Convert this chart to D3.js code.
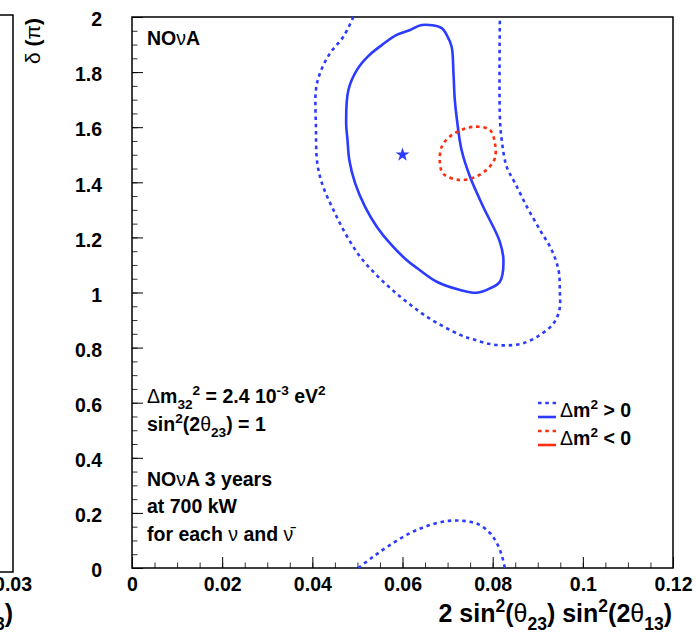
<!DOCTYPE html>
<html lang="en">
<head>
<meta charset="utf-8">
<title>nova contours</title>
<style>
body { margin: 0; background: #fff; }
text { font-family: "Liberation Sans", Arial, sans-serif; font-weight: bold; fill: #000; }
</style>
</head>
<body>
<script src="https://d3js.org/d3.v7.min.js"></script>
<script>

// contours in (2 sin^2(th23) sin^2(2th13), delta/pi)
// solid blue: dm2 > 0, inner contour (closed)
var solidX = [0.0643, 0.0687, 0.0698, 0.0709, 0.0713, 0.0716, 0.0720, 0.0731, 0.0750, 0.0779, 0.0816, 0.0824,
              0.0816, 0.0794, 0.0765, 0.0728, 0.0676, 0.0632, 0.0609, 0.0572, 0.0543, 0.0517, 0.0495,
              0.0482, 0.0478, 0.0475, 0.0480, 0.0499, 0.0524, 0.0554, 0.0587, 0.0617];
var solidY = [1.971, 1.960, 1.935, 1.892, 1.797, 1.699, 1.637, 1.517, 1.419, 1.311, 1.184, 1.112,
              1.039, 1.015, 0.999, 1.009, 1.039, 1.089, 1.118, 1.179, 1.239, 1.311, 1.396,
              1.481, 1.554, 1.614, 1.735, 1.808, 1.858, 1.898, 1.935, 1.953];

// dotted blue: dm2 > 0, outer contour (open, wraps in delta)
var outerX = [0.0491, 0.0469, 0.0439, 0.0417, 0.0408, 0.0408, 0.0411, 0.0424, 0.0447, 0.0473, 0.0506,
              0.0546, 0.0595, 0.0654, 0.0728, 0.0757, 0.0794, 0.0831, 0.0868, 0.0905, 0.0935, 0.0948,
              0.0949, 0.0946, 0.0931, 0.0905, 0.0876, 0.0850, 0.0831, 0.0820, 0.0816, 0.0816];
var outerY = [2.000, 1.929, 1.868, 1.796, 1.735, 1.601, 1.469, 1.384, 1.299, 1.215, 1.130,
              1.057, 0.985, 0.912, 0.846, 0.830, 0.813, 0.808, 0.816, 0.846, 0.888, 0.936,
              1.009, 1.082, 1.154, 1.227, 1.311, 1.396, 1.457, 1.554, 1.637, 2.000];
var lowX = [0.0502, 0.0535, 0.0572, 0.0617, 0.0661, 0.0702, 0.0735, 0.0768, 0.0794, 0.0809, 0.0820, 0.0827];
var lowY = [0.000, 0.041, 0.083, 0.127, 0.156, 0.171, 0.171, 0.159, 0.127, 0.091, 0.047, 0.000];

// dotted red: dm2 < 0 (closed)
var redX = [0.0761, 0.0794, 0.0805, 0.0805, 0.0790, 0.0761, 0.0728, 0.0691, 0.0683, 0.0687, 0.0705, 0.0731];
var redY = [1.602, 1.590, 1.542, 1.488, 1.451, 1.419, 1.408, 1.430, 1.469, 1.529, 1.566, 1.590];

// best fit point
var bestX = [0.06];
var bestY = [1.5];

var xTicks = [0, 0.02, 0.04, 0.06, 0.08, 0.1, 0.12];
var yTicks = [0, 0.2, 0.4, 0.6, 0.8, 1, 1.2, 1.4, 1.6, 1.8, 2];

var BLUE = "#2b3bff", RED = "#ff2d10";
var FS = 19.5;
var TS = 25;

var svg = d3.select("body").append("svg")
            .attr("width", 696)
            .attr("height", 635);

var x = d3.scaleLinear().domain([0, 0.12]).range([132, 673]);
var y = d3.scaleLinear().domain([0, 2]).range([568, 17]);

// text with greek / sub / sup pieces
function rich(t, parts, size) {
	var cur = 0;
	parts.forEach(function(p) {
		var off = p[1] == "sup" ? -0.42 * size : (p[1] == "sub" ? 0.3 * size : 0);
		var ts = t.append("tspan").text(p[0]).attr("dy", off - cur);
		cur = off;
		if (p[1] == "sup" || p[1] == "sub") ts.style("font-size", (size * 0.7) + "px");
		if (p[1] == "g") ts.style("font-weight", "normal");
	});
	return t;
}

// left neighbour panel, cut off
svg.append("path")
   .attr("d", "M0,15H13V572H0")
   .attr("fill", "none")
   .attr("stroke", "#000")
   .attr("stroke-width", 1.5);
svg.append("text").attr("x", 13).attr("y", 591).attr("text-anchor", "middle")
   .style("font-size", FS + "px").text("0.03");

var titleParts = [["2 sin", ""], ["2", "sup"], ["(", ""], ["θ", "g"], ["23", "sub"], [") sin", ""], ["2", "sup"],
                  ["(2", ""], ["θ", "g"], ["13", "sub"], [")", ""]];
rich(svg.append("text").attr("x", 13).attr("y", 622).attr("text-anchor", "end").style("font-size", TS + "px"),
     titleParts, TS);

// axes with inward ticks
var yMinor = d3.range(0, 2.001, 0.05);
var xMinor = d3.range(0, 0.1201, 0.005);

svg.append("g").attr("transform", "translate(132,0)")
   .call(d3.axisLeft(y).tickValues(yMinor).tickSize(-5.5).tickFormat(""))
   .call(function(g) { g.select(".domain").remove(); g.selectAll("line").attr("stroke", "#333"); });
svg.append("g").attr("transform", "translate(0,568)")
   .call(d3.axisBottom(x).tickValues(xMinor).tickSize(-5.5).tickFormat(""))
   .call(function(g) { g.select(".domain").remove(); g.selectAll("line").attr("stroke", "#333"); });

var yAxis = svg.append("g").attr("transform", "translate(132,0)")
   .call(d3.axisLeft(y).tickValues(yTicks).tickSize(-11).tickPadding(30)
           .tickFormat(function(d) { return d3.format("~g")(d); }));
yAxis.select(".domain").remove();
yAxis.selectAll("text").style("font-size", FS + "px").attr("dy", "0.45em");

var xAxis = svg.append("g").attr("transform", "translate(0,568)")
   .call(d3.axisBottom(x).tickValues(xTicks).tickSize(-11).tickPadding(9)
           .tickFormat(function(d) { return d3.format("~g")(d); }));
xAxis.select(".domain").remove();
xAxis.selectAll("text").style("font-size", FS + "px");
yAxis.attr("font-family", null).attr("font-size", null);
xAxis.attr("font-family", null).attr("font-size", null);

// frame
svg.append("rect")
   .attr("x", x(0)).attr("y", y(2))
   .attr("width", x(0.12) - x(0)).attr("height", y(0) - y(2))
   .attr("fill", "none").attr("stroke", "#000").attr("stroke-width", 1.5);

// contours
var line = d3.line().x(function(d) { return x(d[0]); }).y(function(d) { return y(d[1]); });

function pts(xs, ys) { return xs.map(function(v, i) { return [v, ys[i]]; }); }

svg.append("path")
   .attr("d", line.curve(d3.curveCatmullRom.alpha(0.5))(pts(outerX, outerY)))
   .attr("fill", "none").attr("stroke", BLUE).attr("stroke-width", 2.6).attr("stroke-dasharray", "3.5,3.8");
svg.append("path")
   .attr("d", line.curve(d3.curveCatmullRom.alpha(0.5))(pts(lowX, lowY)))
   .attr("fill", "none").attr("stroke", BLUE).attr("stroke-width", 2.6).attr("stroke-dasharray", "3.5,3.8");
svg.append("path")
   .attr("d", line.curve(d3.curveCatmullRomClosed.alpha(0.5))(pts(solidX, solidY)))
   .attr("fill", "none").attr("stroke", BLUE).attr("stroke-width", 2.6);
svg.append("path")
   .attr("d", line.curve(d3.curveCatmullRomClosed.alpha(0.5))(pts(redX, redY)))
   .attr("fill", "none").attr("stroke", RED).attr("stroke-width", 2.6).attr("stroke-dasharray", "3.5,3.8");

svg.selectAll(".best").data(pts(bestX, bestY)).enter().append("path")
   .attr("class", "best")
   .attr("transform", function(d) { return "translate(" + x(d[0]) + "," + y(d[1]) + ")"; })
   .attr("d", d3.symbol().type(d3.symbolStar).size(60))
   .attr("fill", BLUE);

// labels
rich(svg.append("text").attr("x", 147).attr("y", 45).style("font-size", FS + "px"),
     [["NO", ""], ["ν", "g"], ["A", ""]], FS);

rich(svg.append("text").attr("x", 147).attr("y", 403).style("font-size", FS + "px"),
     [["Δ", "g"], ["m", ""], ["32", "sub"], ["2", "sup"], [" = 2.4 10", ""], ["-3", "sup"], [" eV", ""], ["2", "sup"]], FS);
rich(svg.append("text").attr("x", 147).attr("y", 431).style("font-size", FS + "px"),
     [["sin", ""], ["2", "sup"], ["(2", ""], ["θ", "g"], ["23", "sub"], [") = 1", ""]], FS);
rich(svg.append("text").attr("x", 147).attr("y", 486).style("font-size", FS + "px"),
     [["NO", ""], ["ν", "g"], ["A 3 years", ""]], FS);
svg.append("text").attr("x", 147).attr("y", 513).style("font-size", FS + "px").text("at 700 kW");
rich(svg.append("text").attr("x", 147).attr("y", 541).style("font-size", FS + "px"),
     [["for each ", ""], ["ν", "g"], [" and ", ""], ["ν\u0304", "g"]], FS);

// legend
var legend = [
	{color: BLUE, y: 403, label: [["Δ", "g"], ["m", ""], ["2", "sup"], [" > 0", ""]]},
	{color: RED, y: 431, label: [["Δ", "g"], ["m", ""], ["2", "sup"], [" < 0", ""]]}
];
legend.forEach(function(l) {
	svg.append("line").attr("x1", 538).attr("x2", 556).attr("y1", l.y).attr("y2", l.y)
	   .attr("stroke", l.color).attr("stroke-width", 2.6).attr("stroke-dasharray", "3.5,3.8");
	svg.append("line").attr("x1", 538).attr("x2", 556).attr("y1", l.y + 14).attr("y2", l.y + 14)
	   .attr("stroke", l.color).attr("stroke-width", 2.6);
	rich(svg.append("text").attr("x", 560).attr("y", l.y + 14).style("font-size", FS + "px"), l.label, FS);
});

// axis titles
rich(svg.append("text").attr("x", 672).attr("y", 622).attr("text-anchor", "end").style("font-size", TS + "px"),
     titleParts, TS);
rich(svg.append("text").attr("transform", "translate(40,18) rotate(-90)").attr("text-anchor", "end")
        .style("font-size", "21px"),
     [["δ", "g"], [" (", ""], ["π", "g"], [")", ""]], 21);

</script>
</body>
</html>
